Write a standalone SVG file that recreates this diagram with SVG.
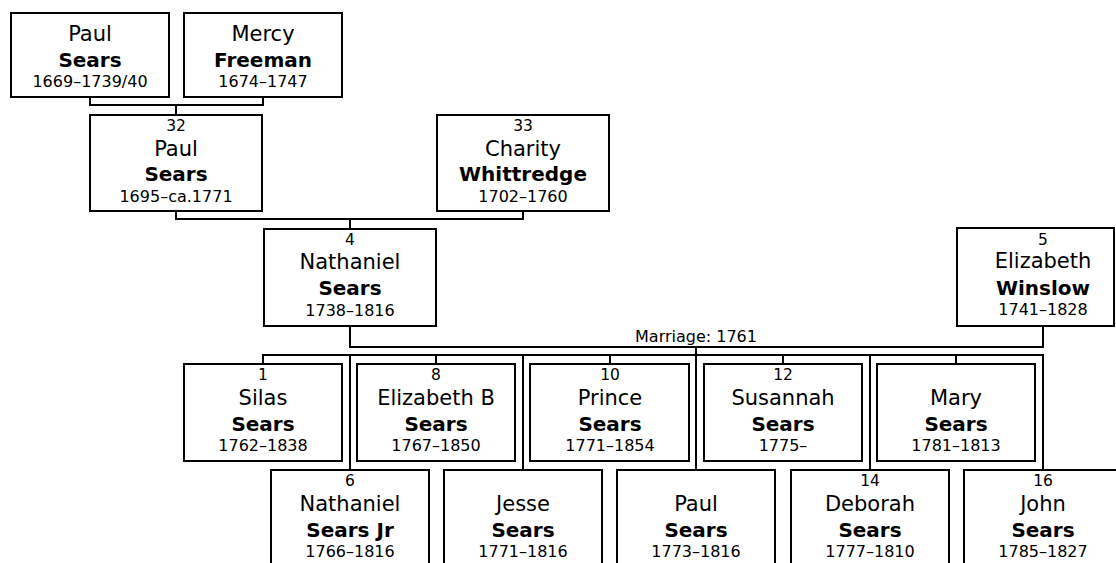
<svg xmlns="http://www.w3.org/2000/svg" width="1116" height="563" viewBox="0 0 1116 563">
<style>
.box{fill:#fff;stroke:#000;stroke-width:2}
.con{fill:none;stroke:#000;stroke-width:2}
text{font-family:"DejaVu Sans","Verdana",sans-serif;text-anchor:middle;fill:#000}
.n{font-size:15.5px}
.g{font-size:21px}
.s{font-size:20px;font-weight:bold}
.d{font-size:16px}
.m{font-size:16px}
</style>
<rect width="1116" height="563" fill="#fff"/>
<g id="connectors">
<path class="con" d="M90 98V105H263V98M176 105V114"/>
<path class="con" d="M176 212V219H523V212M350 219V228"/>
<path class="con" d="M350 327V347H1043V327"/>
<path class="con" d="M263 363V355H1043V470M436 355V363M610 355V363M783 355V363M956 355V363M350 355V470M523 355V470M696 347V470M870 355V470"/>
<text class="m" x="696" y="342">Marriage: 1761</text>
</g>
<g id="paul-sears-1669">
<rect class="box" x="11" y="13" width="158" height="84"/>
<text class="g" x="90" y="41">Paul</text><text class="s" x="90" y="67">Sears</text><text class="d" x="90" y="87">1669–1739/40</text>
</g>
<g id="mercy-freeman">
<rect class="box" x="184" y="13" width="158" height="84"/>
<text class="g" x="263" y="41">Mercy</text><text class="s" x="263" y="67">Freeman</text><text class="d" x="263" y="87">1674–1747</text>
</g>
<g id="p32">
<rect class="box" x="90" y="115" width="172" height="96"/>
<text class="n" x="176" y="131">32</text><text class="g" x="176" y="155.5">Paul</text><text class="s" x="176" y="181">Sears</text><text class="d" x="176" y="201.5">1695–ca.1771</text>
</g>
<g id="p33">
<rect class="box" x="437" y="115" width="172" height="96"/>
<text class="n" x="523" y="131">33</text><text class="g" x="523" y="155.5">Charity</text><text class="s" x="523" y="181">Whittredge</text><text class="d" x="523" y="201.5">1702–1760</text>
</g>
<g id="p4">
<rect class="box" x="264" y="229" width="172" height="97"/>
<text class="n" x="350" y="245">4</text><text class="g" x="350" y="269">Nathaniel</text><text class="s" x="350" y="295">Sears</text><text class="d" x="350" y="315.5">1738–1816</text>
</g>
<g id="p5">
<rect class="box" x="957" y="228" width="157" height="98"/>
<text class="n" x="1043" y="245">5</text><text class="g" x="1043" y="268">Elizabeth</text><text class="s" x="1043" y="294.5">Winslow</text><text class="d" x="1043" y="315">1741–1828</text>
</g>
<g id="p1">
<rect class="box" x="184" y="364" width="158" height="97"/>
<text class="n" x="263" y="380">1</text><text class="g" x="263" y="405">Silas</text><text class="s" x="263" y="431">Sears</text><text class="d" x="263" y="451">1762–1838</text>
</g>
<g id="p8">
<rect class="box" x="357" y="364" width="158" height="97"/>
<text class="n" x="436" y="380">8</text><text class="g" x="436" y="405">Elizabeth B</text><text class="s" x="436" y="431">Sears</text><text class="d" x="436" y="451">1767–1850</text>
</g>
<g id="p10">
<rect class="box" x="530" y="364" width="159" height="97"/>
<text class="n" x="610" y="380">10</text><text class="g" x="610" y="405">Prince</text><text class="s" x="610" y="431">Sears</text><text class="d" x="610" y="451">1771–1854</text>
</g>
<g id="p12">
<rect class="box" x="704" y="364" width="158" height="97"/>
<text class="n" x="783" y="380">12</text><text class="g" x="783" y="405">Susannah</text><text class="s" x="783" y="431">Sears</text><text class="d" x="783" y="451">1775–</text>
</g>
<g id="mary">
<rect class="box" x="877" y="364" width="158" height="97"/>
<text class="g" x="956" y="405">Mary</text><text class="s" x="956" y="431">Sears</text><text class="d" x="956" y="451">1781–1813</text>
</g>
<g id="p6">
<rect class="box" x="271" y="470" width="158" height="100"/>
<text class="n" x="350" y="486">6</text><text class="g" x="350" y="511">Nathaniel</text><text class="s" x="350" y="537">Sears Jr</text><text class="d" x="350" y="557">1766–1816</text>
</g>
<g id="jesse">
<rect class="box" x="444" y="470" width="158" height="100"/>
<text class="g" x="523" y="511">Jesse</text><text class="s" x="523" y="537">Sears</text><text class="d" x="523" y="557">1771–1816</text>
</g>
<g id="paul-1773">
<rect class="box" x="617" y="470" width="158" height="100"/>
<text class="g" x="696" y="511">Paul</text><text class="s" x="696" y="537">Sears</text><text class="d" x="696" y="557">1773–1816</text>
</g>
<g id="p14">
<rect class="box" x="791" y="470" width="158" height="100"/>
<text class="n" x="870" y="486">14</text><text class="g" x="870" y="511">Deborah</text><text class="s" x="870" y="537">Sears</text><text class="d" x="870" y="557">1777–1810</text>
</g>
<g id="p16">
<rect class="box" x="964" y="470" width="158" height="100"/>
<text class="n" x="1043" y="486">16</text><text class="g" x="1043" y="511">John</text><text class="s" x="1043" y="537">Sears</text><text class="d" x="1043" y="557">1785–1827</text>
</g>
</svg>
